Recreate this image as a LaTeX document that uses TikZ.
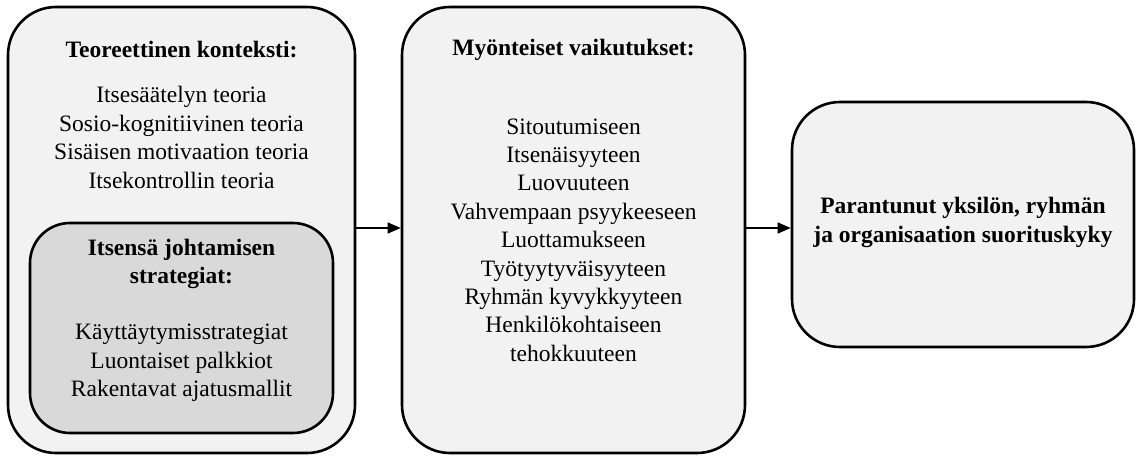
\documentclass[tikz,border=0pt]{standalone}
\usepackage{fontspec}
\setmainfont{Liberation Serif}
\usetikzlibrary{arrows.meta}
\begin{document}
\begin{tikzpicture}[x=1pt,y=-1pt,
  panel/.style={draw=black, line width=2.6pt, rounded corners=48pt, fill=panelgray, inner sep=0pt},
  innerpanel/.style={draw=black, line width=2.6pt, rounded corners=40pt, fill=innergray, inner sep=0pt},
  txt/.style={align=center, inner sep=0pt, font=\fontsize{23.5}{28.4}\selectfont},
  head/.style={align=center, inner sep=0pt, font=\fontsize{23.5}{28.4}\selectfont\bfseries},
  flow/.style={line width=1.1pt, -{Triangle[length=13pt,width=11pt]}}]
\definecolor{panelgray}{HTML}{F2F2F2}
\definecolor{innergray}{HTML}{D9D9D9}
\useasboundingbox (0,0) rectangle (1137,457);

% theoretical context panel with the nested strategies panel
\node[panel, minimum width=347pt, minimum height=446pt] (ctx) at (181.5,230) {};
\node[head] (ctxhead) at (181.5,50) {Teoreettinen konteksti:};
\node[txt] (ctxlist) at (181.5,137.5) {Itsesäätelyn teoria\\Sosio-kognitiivinen teoria\\Sisäisen motivaation teoria\\Itsekontrollin teoria};
\node[innerpanel, minimum width=303pt, minimum height=210pt] (strat) at (181.5,328) {};
\node[head] (strathead) at (181.5,264) {Itsensä johtamisen\\strategiat:};
\node[txt] (stratlist) at (181.5,363) {Käyttäytymisstrategiat\\Luontaiset palkkiot\\Rakentavat ajatusmallit};

% positive effects panel
\node[panel, minimum width=343pt, minimum height=446pt] (eff) at (573.5,230) {};
\node[head] (effhead) at (573.5,50) {Myönteiset vaikutukset:};
\node[txt] (efflist) at (573.5,240) {Sitoutumiseen\\Itsenäisyyteen\\Luovuuteen\\Vahvempaan psyykeeseen\\Luottamukseen\\Työtyytyväisyyteen\\Ryhmän kyvykkyyteen\\Henkilökohtaiseen\\tehokkuuteen};

% outcome panel
\node[panel, minimum width=342pt, minimum height=245pt] (perf) at (963,224.5) {};
\node[head] (perfhead) at (963,222.5) {Parantunut yksilön, ryhmän\\ja organisaation suorituskyky};

% connectors
\draw[flow] ([yshift=2pt]ctx.east) -- ([yshift=2pt]eff.west);
\draw[flow] ([yshift=2pt]eff.east) -- ([yshift=2pt]eff.east -| perf.west);
\end{tikzpicture}
\end{document}
